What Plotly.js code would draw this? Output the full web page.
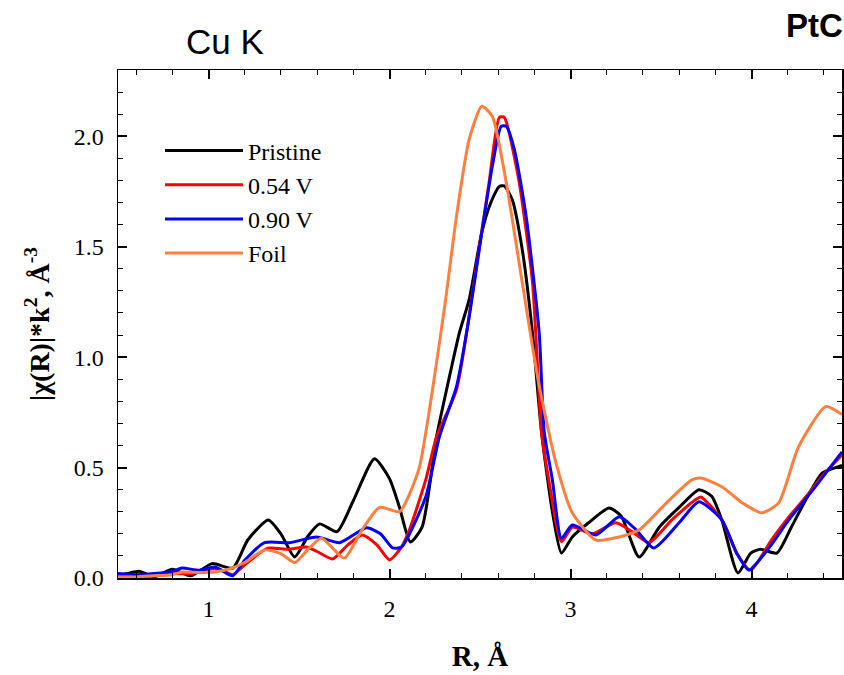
<!DOCTYPE html>
<html>
<head>
<meta charset="utf-8">
<script src="https://cdn.plot.ly/plotly-3.0.1.min.js"></script>
<style>html,body{margin:0;padding:0;background:#fff;}#chart{width:844px;height:675px;}</style>
</head>
<body>
<div id="chart"></div>
<script>
// Pristine
const pristineR = [0.5,0.55,0.62,0.7,0.8,0.9,1.02,1.134,1.217,1.33,1.4,1.476,1.55,1.614,1.71,1.8,1.917,2.0,2.055,2.115,2.18,2.26,2.32,2.386,2.44,2.51,2.56,2.607,2.634,2.678,2.733,2.79,2.84,2.9,2.95,3.01,3.1,3.213,3.28,3.379,3.49,3.6,3.71,3.78,3.836,3.925,3.996,4.05,4.14,4.22,4.30,4.39,4.465,4.5];
const pristineY = [0.01,0.02,0.03,0.005,0.04,0.01,0.065,0.045,0.172,0.263,0.2,0.095,0.19,0.245,0.21,0.35,0.54,0.45,0.32,0.163,0.23,0.64,0.87,1.11,1.26,1.565,1.70,1.773,1.775,1.714,1.49,1.11,0.66,0.3,0.113,0.186,0.25,0.317,0.28,0.095,0.23,0.32,0.40,0.37,0.263,0.023,0.113,0.13,0.113,0.23,0.354,0.475,0.50,0.51];
// 0.54 V
const v054R = [0.5,0.6,0.7,0.8,0.9,1.0,1.06,1.134,1.2,1.327,1.44,1.54,1.6,1.686,1.77,1.85,1.93,2.0,2.066,2.11,2.2,2.26,2.37,2.48,2.55,2.607,2.634,2.66,2.717,2.79,2.84,2.88,2.95,3.01,3.12,3.25,3.34,3.434,3.56,3.69,3.72,3.836,3.92,3.996,4.11,4.2,4.3,4.4,4.5];
const v054Y = [0.015,0.0,0.01,0.02,0.02,0.04,0.04,0.015,0.06,0.135,0.13,0.14,0.12,0.086,0.15,0.195,0.15,0.082,0.14,0.218,0.444,0.64,0.853,1.41,1.79,2.086,2.086,2.02,1.79,1.34,0.66,0.444,0.165,0.23,0.20,0.25,0.21,0.16,0.263,0.354,0.367,0.263,0.11,0.036,0.172,0.27,0.367,0.47,0.558];
// 0.90 V
const v090R = [0.5,0.6,0.7,0.8,0.853,0.95,1.035,1.134,1.2,1.31,1.45,1.597,1.724,1.873,1.95,2.017,2.066,2.2,2.276,2.37,2.44,2.51,2.568,2.617,2.645,2.69,2.755,2.827,2.855,2.9,2.95,3.01,3.14,3.27,3.36,3.46,3.6,3.71,3.836,3.92,3.985,4.1,4.206,4.35,4.5];
const v090Y = [0.02,0.015,0.02,0.03,0.045,0.035,0.05,0.01,0.08,0.16,0.16,0.186,0.16,0.227,0.2,0.136,0.14,0.367,0.64,0.866,1.18,1.565,1.864,2.045,2.045,1.94,1.637,1.11,0.66,0.444,0.18,0.24,0.195,0.277,0.22,0.136,0.25,0.345,0.263,0.11,0.036,0.14,0.263,0.41,0.571];
// Foil
const foilR = [0.5,0.6,0.7,0.8,0.853,0.95,1.035,1.13,1.2,1.31,1.4,1.476,1.55,1.625,1.75,1.85,1.945,2.055,2.1,2.165,2.23,2.31,2.37,2.44,2.51,2.568,2.645,2.733,2.827,2.92,3.01,3.14,3.27,3.38,3.53,3.67,3.72,3.836,3.95,4.056,4.15,4.26,4.41,4.5];
const foilY = [0.005,0.005,0.01,0.015,0.027,0.025,0.027,0.045,0.07,0.127,0.11,0.07,0.13,0.18,0.09,0.22,0.32,0.30,0.36,0.50,0.81,1.26,1.637,1.986,2.136,2.09,1.79,1.34,0.87,0.52,0.295,0.172,0.186,0.218,0.34,0.444,0.453,0.413,0.34,0.295,0.34,0.594,0.776,0.74];

const seriesNames = ['Pristine','0.54 V','0.90 V','Foil'];
const seriesColors = ['#000000','#ff0000','#0000ff','#ff7f3f'];
const xTickVals = [1,2,3,4];
const yTickVals = [0,0.5,1,1.5,2];
const yTickText = ['0.0','0.5','1.0','1.5','2.0'];

const xs = [pristineR, v054R, v090R, foilR];
const ys = [pristineY, v054Y, v090Y, foilY];
const traces = xs.map((x,i)=>({
  x: x, y: ys[i], type:'scatter', mode:'lines', name: seriesNames[i],
  line:{color: seriesColors[i], width:3, shape:'spline', smoothing:0.6}
}));

const serif = 'Liberation Serif, Times New Roman, serif';
const axisCommon = {
  showline:true, linecolor:'#000', linewidth:1.5, mirror:'ticks',
  ticks:'inside', ticklen:9, tickwidth:2, tickcolor:'#000',
  showgrid:false, zeroline:false,
  tickfont:{family:serif, size:24, color:'#000'}
};
const layout = {
  width:844, height:675,
  margin:{l:118, r:2, t:70, b:97},
  paper_bgcolor:'#fff', plot_bgcolor:'#fff',
  showlegend:true,
  legend:{x:0.058, y:0.885, xanchor:'left', yanchor:'top', bgcolor:'rgba(0,0,0,0)',
          font:{family:serif, size:24, color:'#000'}, itemwidth:78},
  xaxis: Object.assign({}, axisCommon, {
    range:[0.5,4.5], tickvals:xTickVals, ticktext:xTickVals.map(String),
    minor:{dtick:0.2, ticks:'inside', ticklen:5, tickwidth:1, tickcolor:'#000', showgrid:false},
    ticklabelstandoff:9,
    title:{text:'<b>R, Å</b>', font:{family:serif, size:29, color:'#000'}, standoff:24}
  }),
  yaxis: Object.assign({}, axisCommon, {
    range:[0,2.3], tickvals:yTickVals, ticktext:yTickText,
    minor:{dtick:0.1, ticks:'inside', ticklen:5, tickwidth:1, tickcolor:'#000', showgrid:false},
    ticklabelstandoff:8,
    title:{text:'<b>|χ(R)|*k<sup>2</sup>, Å<sup>-3</sup></b>', font:{family:serif, size:28, color:'#000'}, standoff:16}
  }),
  annotations:[
    {xref:'paper', yref:'paper', x:(225-118)/724, y:1.0, yshift:7, xanchor:'center', yanchor:'bottom',
     text:'Cu K', showarrow:false, font:{family:'Liberation Sans, Arial, sans-serif', size:35, color:'#000'}},
    {xref:'paper', yref:'paper', x:(784-118)/724, y:1.0, yshift:24, xanchor:'left', yanchor:'bottom',
     text:'<b>PtC</b>', showarrow:false, font:{family:'Liberation Sans, Arial, sans-serif', size:33, color:'#000'}}
  ]
};
Plotly.newPlot('chart', traces, layout, {displayModeBar:false, staticPlot:true});
</script>
</body>
</html>
